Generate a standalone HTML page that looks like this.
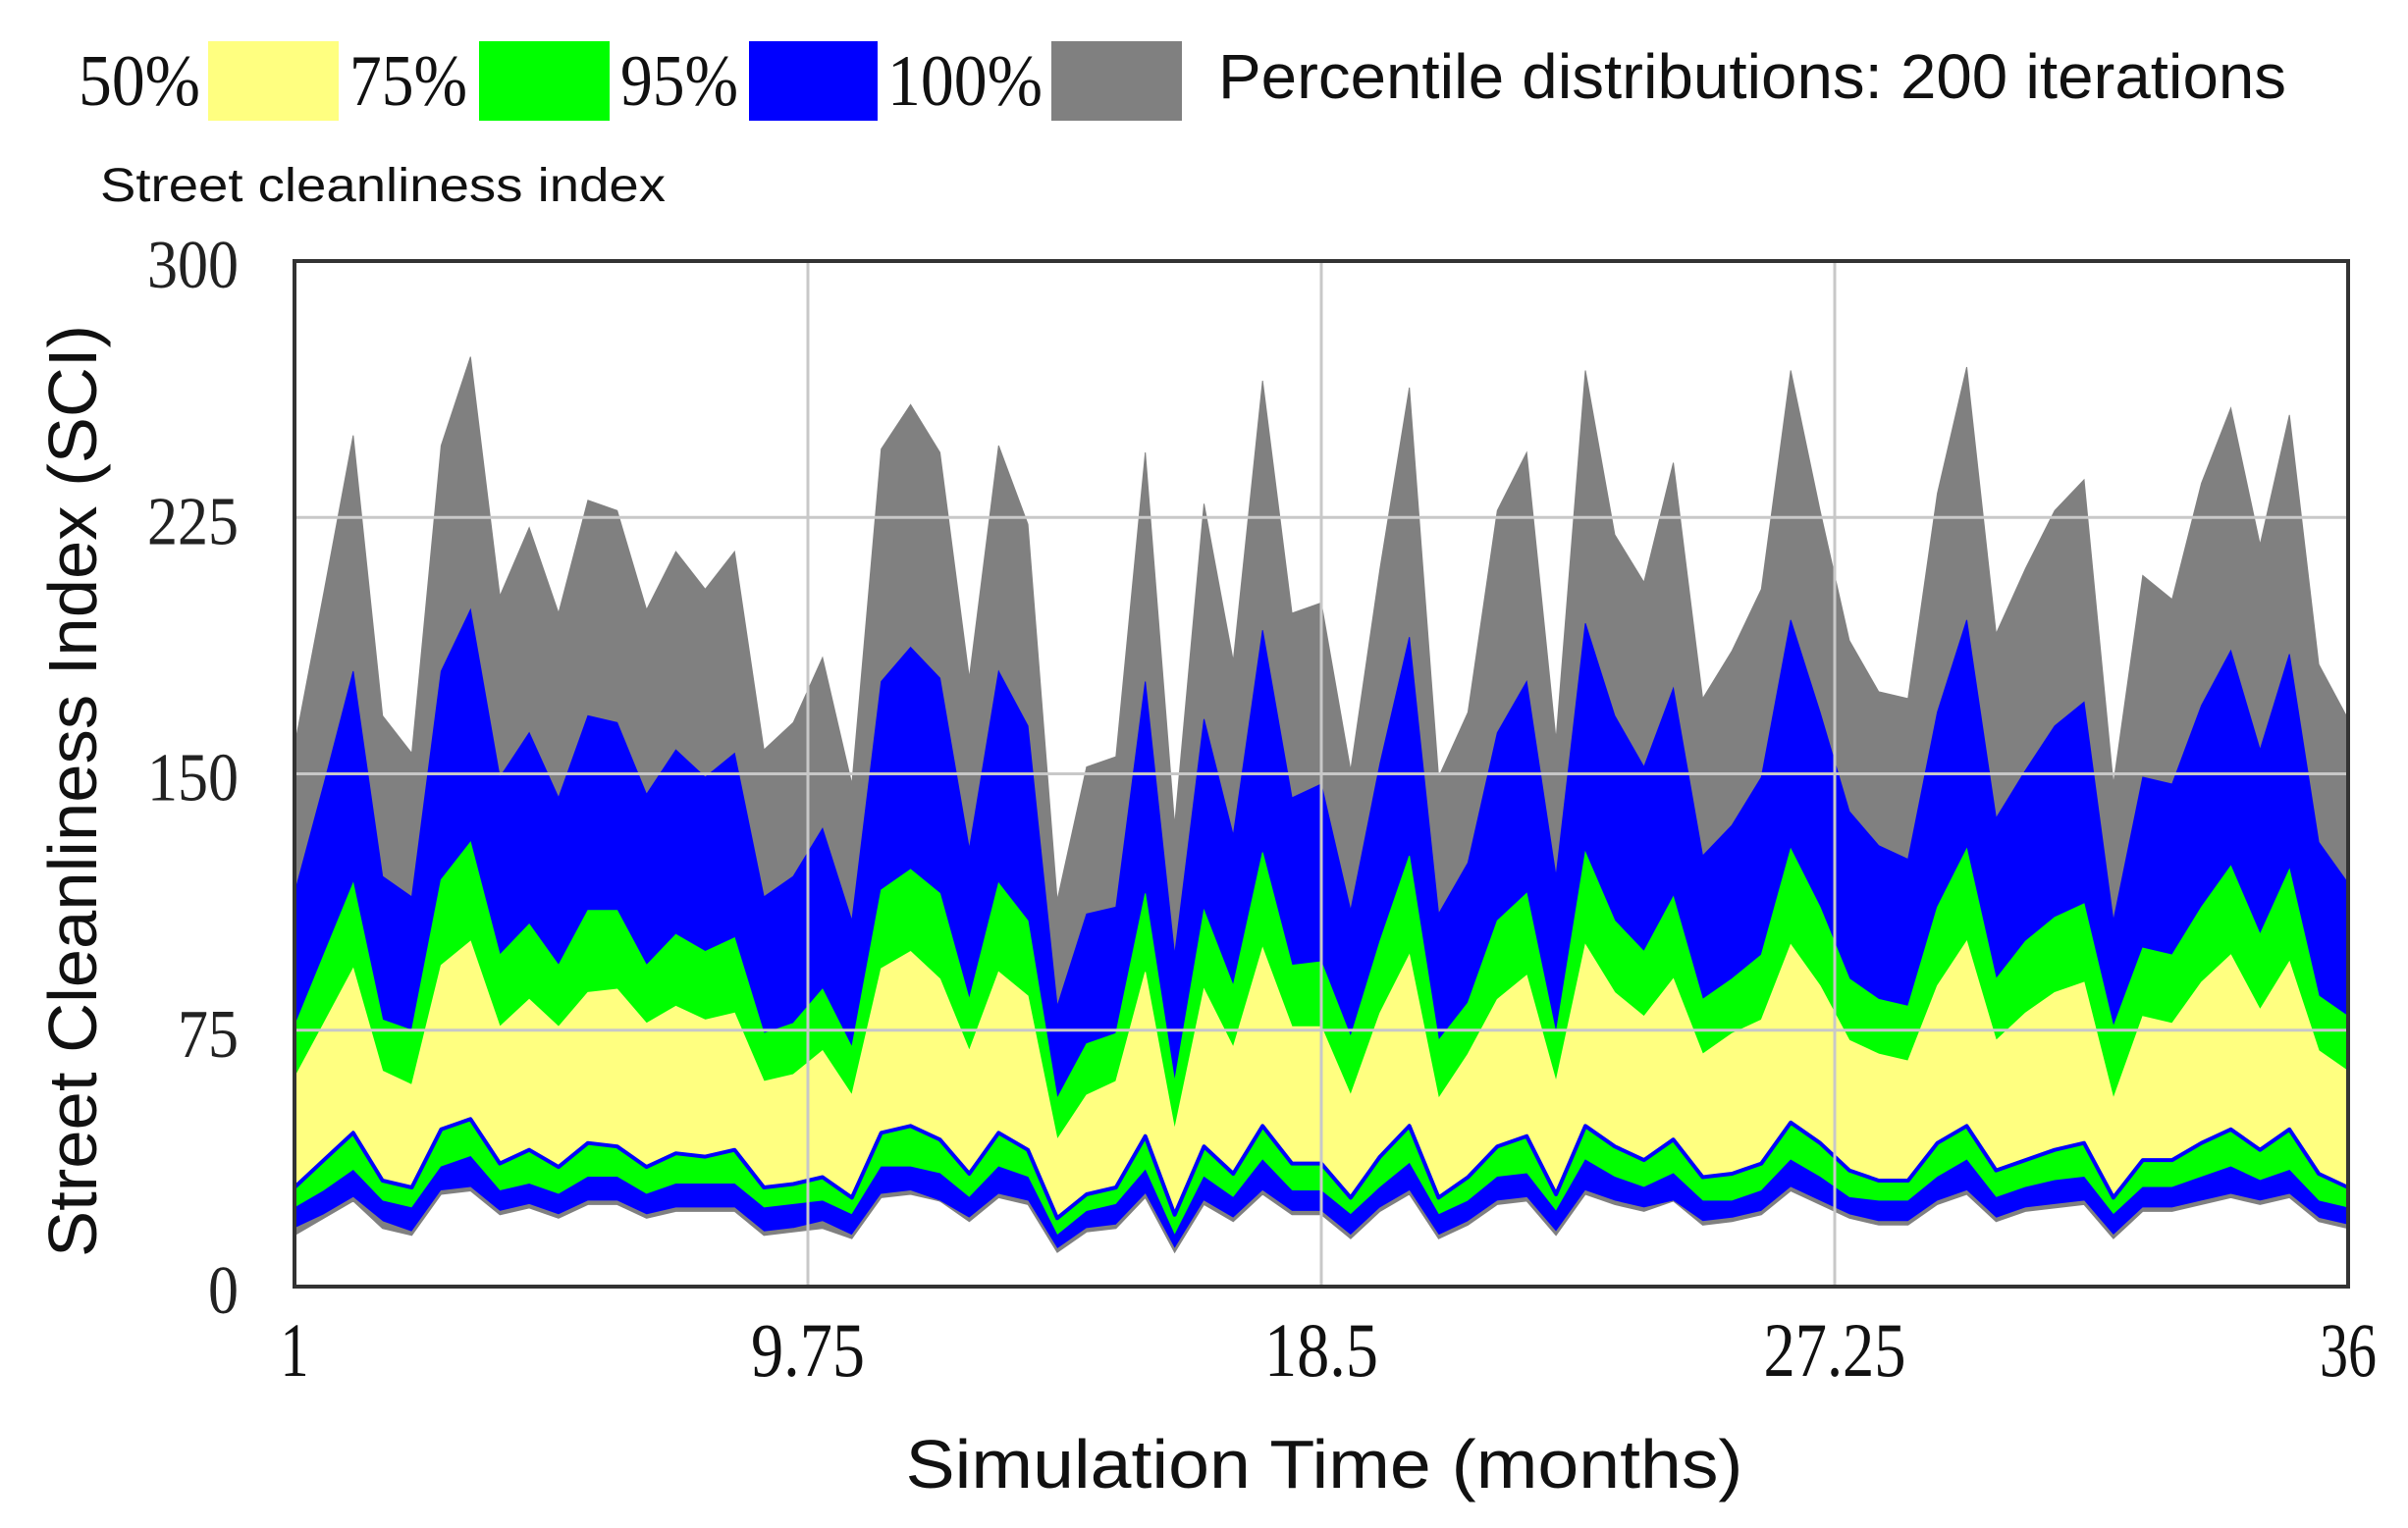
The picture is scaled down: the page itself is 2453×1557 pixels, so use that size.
<!DOCTYPE html>
<html><head><meta charset="utf-8"><style>
html,body{margin:0;padding:0;background:#fff;}
svg{display:block;}
</style></head><body>
<svg id="chart" width="2453" height="1557" viewBox="0 0 2453 1557" xmlns="http://www.w3.org/2000/svg">
<rect x="0" y="0" width="2453" height="1557" fill="#fff"/>
<g font-family="Liberation Serif, serif" font-size="74" fill="#111">
<text x="80" y="107" textLength="124" lengthAdjust="spacingAndGlyphs">50%</text>
<rect x="212" y="42" width="133" height="81" fill="#ffff80"/>
<text x="356" y="107" textLength="120" lengthAdjust="spacingAndGlyphs">75%</text>
<rect x="488" y="42" width="133" height="81" fill="#00ff00"/>
<text x="632" y="107" textLength="120" lengthAdjust="spacingAndGlyphs">95%</text>
<rect x="763" y="42" width="131" height="81" fill="#0000ff"/>
<text x="904" y="107" textLength="158" lengthAdjust="spacingAndGlyphs">100%</text>
<rect x="1071" y="42" width="133" height="81" fill="#808080"/>
<text x="1241" y="100" font-family="Liberation Sans, sans-serif" font-size="64" textLength="1088" lengthAdjust="spacingAndGlyphs">Percentile distributions: 200 iterations</text>
</g>
<text x="102" y="205" font-family="Liberation Sans, sans-serif" font-size="48" fill="#111" textLength="576" lengthAdjust="spacingAndGlyphs">Street cleanliness index</text>
<g id="plot"></g>
<text transform="translate(98,806) rotate(-90)" text-anchor="middle" font-family="Liberation Sans, sans-serif" font-size="70" fill="#111" textLength="950" lengthAdjust="spacingAndGlyphs">Street Cleanliness Index (SCI)</text>
<text x="1349" y="1516" text-anchor="middle" font-family="Liberation Sans, sans-serif" font-size="70" fill="#111" textLength="853" lengthAdjust="spacingAndGlyphs">Simulation Time (months)</text>
</svg>
<script>
const times = [1,1.5,2,2.5,3,3.5,4,4.5,5,5.5,6,6.5,7,7.5,8,8.5,9,9.5,10,10.5,11,11.5,12,12.5,13,13.5,14,14.5,15,15.5,16,16.5,17,17.5,18,18.5,19,19.5,20,20.5,21,21.5,22,22.5,23,23.5,24,24.5,25,25.5,26,26.5,27,27.5,28,28.5,29,29.5,30,30.5,31,31.5,32,32.5,33,33.5,34,34.5,35,35.5,36];
const p100Upper = [158,203,249,167,156,246,272,202,222,197,230,227,198,215,204,215,157,165,184,147,245,258,244,178,246,223,113,152,155,244,135,229,183,265,197,200,151,210,263,149,168,227,244,160,268,220,206,241,172,186,204,268,227,189,174,172,232,269,191,210,227,236,147,208,201,235,257,217,255,182,166];
const p95Upper = [115,147,180,120,114,180,198,149,162,143,167,165,144,157,149,156,114,120,134,107,177,187,178,128,180,164,82,109,111,177,97,166,132,192,143,147,110,153,190,109,124,162,177,120,194,167,152,175,126,135,149,195,168,139,129,125,168,195,137,151,164,171,107,149,147,170,186,157,185,130,118];
const p75Upper = [76,97,118,78,75,119,130,97,106,94,110,110,94,103,98,102,74,77,87,70,116,122,115,84,118,107,55,71,74,115,60,110,88,127,94,95,73,101,126,72,83,107,115,74,127,107,98,114,84,90,97,128,111,90,84,82,111,128,90,101,108,112,76,99,97,111,123,103,122,85,79];
const p50Upper = [61,77,93,63,59,94,101,76,84,76,86,87,77,82,78,80,60,62,69,56,93,98,90,69,92,85,43,56,60,92,46,87,70,99,76,76,56,80,97,55,68,84,91,60,100,86,79,90,68,74,78,100,88,72,68,66,88,101,72,80,86,89,55,79,77,89,97,81,95,69,63];
const p50Lower = [29,37,45,31,29,46,49,36,40,35,42,41,35,39,38,40,29,30,32,26,45,47,43,33,45,40,20,27,29,44,21,41,33,47,36,36,26,38,47,26,32,41,44,27,47,41,37,43,32,33,36,48,42,34,31,31,42,47,34,37,40,42,26,37,37,42,46,40,46,33,29];
const p75Lower = [23,28,34,25,23,35,38,28,30,27,32,32,27,30,30,30,23,24,25,21,35,35,33,26,35,32,15,22,24,34,15,32,26,37,28,28,21,29,36,21,25,32,33,22,37,32,29,33,25,25,28,37,32,26,25,25,32,37,26,29,31,32,21,29,29,32,35,31,34,25,23];
const p95Lower = [17,21,26,19,16,28,29,22,24,21,25,25,21,23,23,23,16,17,19,15,27,28,25,20,27,25,11,17,18,27,11,25,20,28,22,22,15,23,28,15,19,25,26,16,28,25,23,25,19,20,22,29,25,21,19,19,25,28,20,23,24,25,15,23,23,25,27,25,27,20,18];
const p100Lower = [15,20,25,17,15,27,28,21,23,20,24,24,20,22,22,22,15,16,17,14,26,27,25,19,26,24,10,16,17,26,10,24,19,27,21,21,14,22,27,14,18,24,25,15,27,24,22,25,18,19,21,28,24,20,18,18,24,27,19,22,23,24,14,22,22,24,26,24,26,19,17];
const yTicks = [0,75,150,225,300];
const yTickLabels = ["0","75","150","225","300"];
const xTicks = [1,9.75,18.5,27.25,36];
const xTickLabels = ["1","9.75","18.5","27.25","36"];

const X0=300,X1=2392,Y0=1311,Y1=266;
function xs(t){return X0+(t-1)/(36-1)*(X1-X0);}
function ys(v){return Y0-(v/300)*(Y0-Y1);}
const NS='http://www.w3.org/2000/svg';
const plot=document.getElementById('plot');
function mk(tag,attrs){const e=document.createElementNS(NS,tag);for(const k in attrs)e.setAttribute(k,attrs[k]);return e;}

function band(upper,lower,color,name){
  let d='M'+times.map((t,i)=>xs(t).toFixed(1)+','+ys(upper[i]).toFixed(1)).join('L');
  for(let i=times.length-1;i>=0;i--)d+='L'+xs(times[i]).toFixed(1)+','+ys(lower[i]).toFixed(1);
  d+='Z';
  const p=mk('path',{d:d,fill:color,stroke:color,'stroke-width':1});
  
  
  plot.appendChild(p);
}
function line(arr,color,w,name){
  const d='M'+times.map((t,i)=>xs(t).toFixed(1)+','+ys(arr[i]).toFixed(1)).join('L');
  const p=mk('path',{d:d,fill:'none',stroke:color,'stroke-width':w,'stroke-linejoin':'round'});
  
  
  plot.appendChild(p);
}

band(p100Upper,p95Upper,'#808080','band-100-upper');
band(p95Upper,p75Upper,'#0000ff','band-95-upper');
band(p75Upper,p50Upper,'#00ff00','band-75-upper');
band(p50Upper,p50Lower,'#ffff80','band-50');
band(p50Lower,p75Lower,'#00ff00','band-75-lower');
band(p75Lower,p95Lower,'#0000ff','band-95-lower');
band(p95Lower,p100Lower,'#808080','band-100-lower');
line(p50Lower,'#0000ff',4,'line-50-lower');

yTicks.forEach((v,i)=>{
  if(v>0&&v<300){
    const g=mk('line',{x1:X0,x2:X1,y1:ys(v),y2:ys(v),stroke:'#c8c8c8','stroke-width':3});
    
    
    plot.appendChild(g);
  }
  const t=mk('text',{x:243,y:ys(v)+27,'text-anchor':'end','font-family':'Liberation Serif, serif','font-size':70,fill:'#222',textLength:yTickLabels[i].length*31,lengthAdjust:'spacingAndGlyphs'});
  t.textContent=yTickLabels[i];
  
  
  plot.appendChild(t);
});
xTicks.forEach((v,i)=>{
  if(v>1&&v<36){
    const g=mk('line',{x1:xs(v),x2:xs(v),y1:Y1,y2:Y0,stroke:'#c8c8c8','stroke-width':3});
    
    
    plot.appendChild(g);
  }
  const lab=xTickLabels[i];
  const t=mk('text',{x:xs(v),y:1402,'text-anchor':'middle','font-family':'Liberation Serif, serif','font-size':78,fill:'#111',textLength:lab.length*29,lengthAdjust:'spacingAndGlyphs'});
  t.textContent=lab;
  
  
  plot.appendChild(t);
});
const frame=mk('rect',{x:X0,y:Y1,width:X1-X0,height:Y0-Y1,fill:'none',stroke:'#333','stroke-width':4});


plot.appendChild(frame);
</script>
</body></html>
